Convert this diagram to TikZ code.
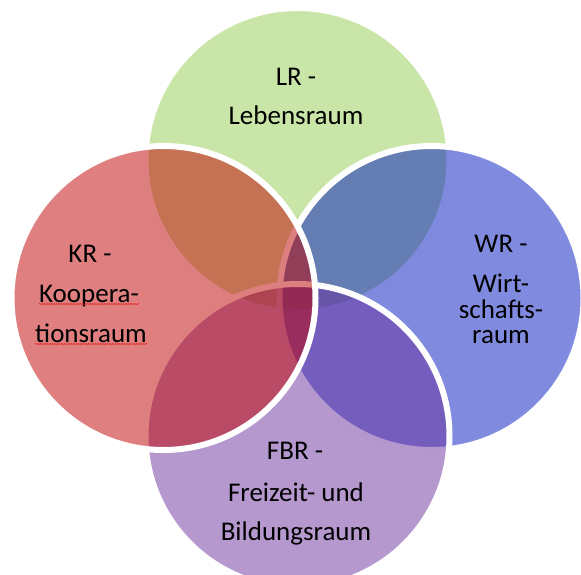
\documentclass[tikz,border=0pt]{standalone}
\usepackage{fontspec}
\setmainfont{Carlito}
\usepackage{xcolor}
\usepackage{tikz}
\usetikzlibrary{decorations.pathmorphing}
\definecolor{vnGreen}{HTML}{93CD51}
\definecolor{vnBlue}{HTML}{0117BF}
\definecolor{vnPurple}{HTML}{6B319D}
\definecolor{vnRed}{HTML}{BF0000}
\definecolor{vnInk}{HTML}{000000}
\definecolor{vnSpell}{HTML}{E0201C}
\tikzset{
  vn diagram/.style={x=1pt, y=-1pt, text=vnInk},
  vn circle/.style={draw=white, line width=6pt, fill opacity=0.5},
  vn label/.style={font=\fontsize{27}{32}\selectfont, inner sep=0pt, anchor=base},
  vn squiggle/.style={draw=vnSpell, line width=0.5pt, decorate,
    decoration={snake, amplitude=0.6pt, segment length=2.4pt}}
}

\begin{document}
\begin{tikzpicture}[vn diagram]
\useasboundingbox (0,0) rectangle (581,574);
% the four circles, bottom to top
\path[vn circle, fill=vnGreen] (297.5,160) circle[radius=152];
\path[vn circle, fill=vnBlue] (431.5,298) circle[radius=152];
\path[vn circle, fill=vnPurple] (297.5,436) circle[radius=152];
\path[vn circle, fill=vnRed] (163.5,298) circle[radius=152];
% labels
\node[vn label] (lr1) at (296,85) {LR -};
\node[vn label] (lr2) at (296,124) {Lebensraum};
\node[vn label] (kr1) at (90,262) {KR -};
\node[vn label] (kr2) at (89,302) {Koopera-};
\node[vn label] (kr3) at (91,342) {tionsraum};
\node[vn label] (wr1) at (501,252) {WR -};
\node[vn label] (wr2) at (501,292) {Wirt-};
\node[vn label] (wr3) at (501,318) {schafts-};
\node[vn label] (wr4) at (501,343) {raum};
\node[vn label] (fbr1) at (295,459) {FBR -};
\node[vn label] (fbr2) at (296,501) {Freizeit- und};
\node[vn label] (fbr3) at (296,540) {Bildungsraum};
\draw[vn squiggle] ([yshift=-2pt]kr2.base west) -- ([yshift=-2pt]kr2.base east);
\draw[vn squiggle] ([yshift=-2pt]kr3.base west) -- ([yshift=-2pt]kr3.base east);
\end{tikzpicture}
\end{document}
